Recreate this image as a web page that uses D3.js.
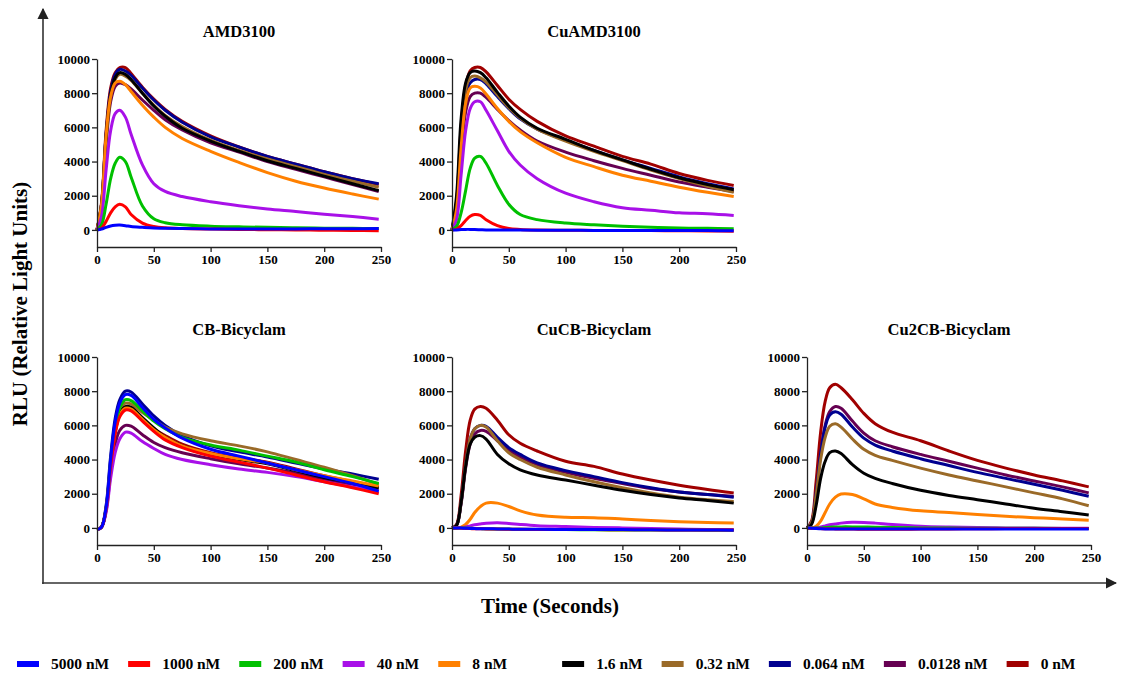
<!DOCTYPE html>
<html>
<head>
<meta charset="utf-8">
<script src="https://cdn.jsdelivr.net/npm/d3@7"></script>
<style>
  body { margin: 0; background: #fff; }
  svg { display: block; }
  svg text { font-family: 'Liberation Serif', 'Times New Roman', Times, 'DejaVu Serif', serif; font-weight: 700; fill: #000; }
</style>
</head>
<body>
<svg id="chart" width="1121" height="673"></svg>
<script>
// time points (seconds) at which the curves were read
const TIMES = [0, 4, 8, 12, 16, 20, 25, 30, 40, 50, 60, 75, 100, 125, 150, 175, 200, 225, 248];

const SERIES = ["5000 nM", "1000 nM", "200 nM", "40 nM", "8 nM", "1.6 nM", "0.32 nM", "0.064 nM", "0.0128 nM", "0 nM"];
const COLORS = ["#0000ff", "#ff0000", "#00c000", "#a810e8", "#ff8000", "#000000", "#9a6a28", "#000090", "#660052", "#a00000"];

const X_TICKS = [0, 50, 100, 150, 200, 250];
const Y_TICKS = [0, 2000, 4000, 6000, 8000, 10000];

// one row per series, same order as SERIES
const AMD3100 = [
  [0, 50, 150, 230, 270, 280, 250, 200, 150, 110, 100, 80, 60, 50, 60, 60, 70, 70, 80],
  [0, 100, 500, 1000, 1350, 1500, 1350, 900, 400, 200, 120, 80, 50, 30, 10, 0, -20, -30, -50],
  [0, 300, 1500, 3000, 3900, 4250, 4000, 3100, 1400, 650, 420, 300, 220, 180, 150, 120, 100, 90, 80],
  [0, 800, 3500, 5800, 6800, 7000, 6600, 5600, 3800, 2700, 2250, 1950, 1650, 1420, 1230, 1080, 920, 780, 630],
  [0, 1500, 5500, 7800, 8600, 8700, 8500, 8100, 7300, 6600, 6000, 5350, 4600, 3950, 3350, 2850, 2450, 2100, 1800],
  [0, 1500, 5500, 7900, 8900, 9200, 9100, 8800, 8000, 7250, 6650, 5950, 5200, 4600, 4050, 3600, 3150, 2700, 2300],
  [0, 1400, 5300, 7800, 8800, 9100, 9000, 8750, 8000, 7300, 6700, 6050, 5250, 4650, 4150, 3700, 3250, 2850, 2500],
  [0, 1500, 5600, 8100, 9100, 9400, 9300, 9050, 8300, 7600, 7000, 6300, 5450, 4850, 4300, 3850, 3400, 3000, 2700],
  [0, 1300, 5000, 7500, 8400, 8600, 8500, 8250, 7600, 7000, 6450, 5850, 5100, 4550, 4000, 3550, 3100, 2650, 2250],
  [0, 1600, 5800, 8300, 9200, 9500, 9500, 9150, 8350, 7650, 7050, 6350, 5500, 4850, 4300, 3850, 3400, 3000, 2650]
];

const CU_AMD3100 = [
  [0, 0, 20, 30, 30, 20, 10, 0, 0, -10, -10, -20, -20, -30, -30, -30, -40, -40, -50],
  [0, 50, 250, 550, 800, 900, 850, 600, 250, 80, 30, 0, -20, -30, -30, -40, -50, -60, -80],
  [0, 200, 1000, 2300, 3600, 4200, 4300, 3900, 2600, 1500, 900, 600, 400, 300, 220, 160, 110, 90, 70],
  [0, 600, 3200, 5800, 7100, 7500, 7500, 7000, 5800, 4600, 3800, 3000, 2150, 1650, 1300, 1150, 1000, 950, 850],
  [0, 1200, 4800, 7400, 8300, 8400, 8300, 7950, 7100, 6350, 5750, 5100, 4250, 3700, 3200, 2850, 2500, 2200, 1950],
  [0, 2000, 6500, 8600, 9200, 9300, 9200, 8900, 8050, 7250, 6600, 5950, 5300, 4650, 4100, 3550, 3050, 2650, 2350],
  [0, 1600, 5800, 8200, 8900, 9000, 8900, 8650, 7900, 7150, 6550, 5900, 5200, 4600, 4050, 3500, 3000, 2550, 2200],
  [0, 1400, 5400, 7900, 8600, 8800, 8800, 8550, 7800, 7100, 6500, 5900, 5250, 4650, 4100, 3600, 3100, 2700, 2400],
  [0, 1000, 4400, 6900, 7800, 8000, 8000, 7750, 7050, 6400, 5850, 5200, 4550, 4050, 3600, 3200, 2800, 2500, 2250],
  [0, 1700, 6000, 8400, 9300, 9500, 9500, 9250, 8450, 7650, 7050, 6350, 5500, 4900, 4300, 3850, 3300, 2900, 2600]
];

const CB_BICYCLAM = [
  [-100, 50, 1200, 4000, 6200, 7300, 7800, 7750, 7050, 6350, 5850, 5250, 4600, 4200, 3800, 3400, 3000, 2600, 2150],
  [-100, 50, 1100, 3600, 5500, 6500, 6900, 6850, 6250, 5650, 5150, 4700, 4200, 3850, 3500, 3100, 2700, 2350, 2000],
  [-100, 50, 1150, 3800, 5900, 7000, 7500, 7450, 6850, 6250, 5800, 5300, 4850, 4550, 4200, 3850, 3400, 3000, 2600],
  [-100, 40, 900, 2900, 4400, 5200, 5600, 5550, 5050, 4650, 4300, 4000, 3700, 3450, 3250, 3000, 2700, 2400, 2100],
  [-100, 50, 1100, 3600, 5600, 6600, 7000, 6950, 6350, 5750, 5300, 4800, 4350, 4050, 3800, 3400, 3050, 2750, 2450],
  [-100, 50, 1100, 3700, 5700, 6700, 7100, 7050, 6450, 5850, 5300, 4800, 4300, 4000, 3750, 3350, 2950, 2650, 2350],
  [-100, 50, 1150, 3800, 5900, 6900, 7300, 7250, 6750, 6300, 5900, 5500, 5100, 4800, 4450, 4000, 3550, 3050, 2550],
  [-100, 60, 1300, 4200, 6400, 7500, 8000, 7950, 7250, 6550, 6000, 5400, 4800, 4450, 4150, 3800, 3450, 3150, 2850],
  [-100, 40, 1000, 3200, 4900, 5700, 6000, 5950, 5450, 5000, 4700, 4400, 4050, 3750, 3500, 3200, 2850, 2550, 2300],
  [-100, 50, 1100, 3600, 5600, 6600, 7000, 6950, 6350, 5800, 5400, 4900, 4400, 4100, 3850, 3450, 3050, 2700, 2400]
];

const CU_CB_BICYCLAM = [
  [0, 0, -10, -20, -30, -40, -50, -50, -60, -70, -80, -80, -90, -100, -100, -110, -120, -120, -130],
  [0, 0, -20, -30, -40, -50, -50, -60, -70, -80, -80, -90, -100, -100, -110, -110, -120, -120, -120],
  [0, 0, 0, -10, -20, -30, -40, -50, -60, -70, -80, -90, -100, -110, -120, -120, -120, -130, -130],
  [0, 0, 20, 60, 120, 180, 230, 270, 300, 260, 200, 130, 80, 30, 0, -40, -70, -90, -100],
  [0, 0, 50, 200, 500, 900, 1250, 1450, 1450, 1250, 1000, 750, 620, 600, 520, 430, 360, 310, 280],
  [0, 150, 1500, 3600, 4900, 5300, 5400, 5200, 4300, 3750, 3400, 3100, 2800, 2500, 2200, 1950, 1750, 1600, 1450],
  [0, 150, 1500, 3700, 5200, 5800, 6000, 5900, 5100, 4400, 4000, 3550, 3100, 2700, 2350, 2050, 1800, 1650, 1550],
  [0, 150, 1500, 3700, 5200, 5800, 6000, 5950, 5300, 4700, 4300, 3800, 3350, 3000, 2650, 2350, 2100, 1950, 1800],
  [0, 150, 1400, 3500, 4900, 5500, 5700, 5650, 5100, 4550, 4150, 3700, 3250, 2900, 2600, 2300, 2100, 1950, 1850],
  [0, 200, 1900, 4500, 6300, 6950, 7100, 7000, 6300, 5450, 4950, 4500, 3900, 3600, 3150, 2800, 2500, 2250, 2050]
];

const CU2_CB_BICYCLAM = [
  [0, -20, -40, -50, -60, -60, -60, -60, -60, -60, -60, -60, -60, -60, -60, -60, -60, -60, -60],
  [0, -20, -30, -40, -50, -50, -60, -70, -70, -80, -80, -80, -70, -60, -50, -40, -30, -30, -30],
  [0, 0, 0, 0, 20, 40, 50, 60, 60, 50, 40, 20, 0, -10, -20, -20, -20, -30, -30],
  [0, 0, 20, 60, 120, 180, 230, 280, 330, 320, 280, 200, 100, 50, 20, 0, -10, -20, -20],
  [0, 0, 100, 400, 900, 1400, 1800, 1980, 1950, 1700, 1400, 1200, 1000, 900, 780, 680, 600, 520, 450],
  [0, 200, 1300, 2900, 3900, 4400, 4500, 4350, 3700, 3200, 2900, 2600, 2200, 1900, 1650, 1400, 1150, 950, 750],
  [0, 300, 1900, 4000, 5300, 5950, 6100, 5900, 5200, 4600, 4250, 3950, 3500, 3100, 2750, 2400, 2050, 1700, 1300],
  [0, 300, 2000, 4300, 5900, 6600, 6800, 6650, 5900, 5250, 4850, 4500, 4050, 3650, 3250, 2900, 2550, 2200, 1850],
  [0, 300, 2000, 4400, 6000, 6800, 7100, 7000, 6250, 5550, 5100, 4750, 4300, 3900, 3500, 3100, 2750, 2400, 2050],
  [0, 400, 2700, 5600, 7400, 8200, 8400, 8200, 7500, 6700, 6100, 5600, 5100, 4500, 3950, 3500, 3100, 2750, 2400]
];

const PANELS = [
  { title: "AMD3100", data: AMD3100, col: 0, row: 0 },
  { title: "CuAMD3100", data: CU_AMD3100, col: 1, row: 0 },
  { title: "CB-Bicyclam", data: CB_BICYCLAM, col: 0, row: 1 },
  { title: "CuCB-Bicyclam", data: CU_CB_BICYCLAM, col: 1, row: 1 },
  { title: "Cu2CB-Bicyclam", data: CU2_CB_BICYCLAM, col: 2, row: 1 }
];

const svg = d3.select("#chart");

const colLeft = [97, 452, 807];
const rowTop = [59, 357];
const plotW = 284, plotH = 188;

PANELS.forEach(p => {
  const g = svg.append("g")
    .attr("transform", "translate(" + colLeft[p.col] + "," + rowTop[p.row] + ")");

  const x = d3.scaleLinear().domain([0, 250]).range([0, plotW]);
  const y = d3.scaleLinear().domain([-1000, 10000]).range([plotH, 0]);

  const line = d3.line()
    .x((d, i) => x(TIMES[i]))
    .y(d => y(d))
    .curve(d3.curveCatmullRom.alpha(0.5));

  // draw from 0 nM up to 5000 nM so the high concentrations sit on top
  for (let s = SERIES.length - 1; s >= 0; s--) {
    g.append("path")
      .datum(p.data[s])
      .attr("d", line)
      .attr("fill", "none")
      .attr("stroke", COLORS[s])
      .attr("stroke-width", 3)
      .attr("stroke-linejoin", "round");
  }

  const xAxis = g.append("g")
    .attr("transform", "translate(0," + plotH + ")")
    .call(d3.axisBottom(x).tickValues(X_TICKS).tickSize(5).tickSizeOuter(0).tickPadding(3));

  const yAxis = g.append("g")
    .call(d3.axisLeft(y).tickValues(Y_TICKS).tickFormat(d3.format("d")).tickSize(5).tickSizeOuter(0).tickPadding(2));

  [xAxis, yAxis].forEach(a => {
    a.attr("font-family", null).attr("font-size", null);
    a.selectAll("path, line").attr("stroke", "#222").attr("stroke-width", 1.3);
    a.selectAll("text").attr("fill", "#000").style("font-size", "13px");
  });

  g.append("text")
    .attr("x", plotW / 2)
    .attr("y", -22)
    .attr("text-anchor", "middle")
    .style("font-size", "16.5px")
    .text(p.title);
});

// big outer axes with arrows
svg.append("defs").append("marker")
  .attr("id", "arrow")
  .attr("viewBox", "0 0 10 10")
  .attr("refX", 9).attr("refY", 5)
  .attr("markerWidth", 7).attr("markerHeight", 7)
  .attr("markerUnits", "strokeWidth")
  .attr("orient", "auto")
  .append("path")
  .attr("d", "M0,0L10,5L0,10Z")
  .attr("fill", "#222");

svg.append("path")
  .attr("d", "M43,584L43,9")
  .attr("stroke", "#333").attr("stroke-width", 1.6).attr("fill", "none")
  .attr("marker-end", "url(#arrow)");

svg.append("path")
  .attr("d", "M42,583L1116,583")
  .attr("stroke", "#333").attr("stroke-width", 1.6).attr("fill", "none")
  .attr("marker-end", "url(#arrow)");

svg.append("text")
  .attr("transform", "translate(27,304) rotate(-90)")
  .attr("text-anchor", "middle")
  .style("font-size", "21px")
  .text("RLU (Relative Light Units)");

svg.append("text")
  .attr("x", 550).attr("y", 613)
  .attr("text-anchor", "middle")
  .style("font-size", "21px")
  .text("Time (Seconds)");

// legend: two groups of five, wider gap between them
const legend = svg.append("g").attr("transform", "translate(0,664)");
let lx = 17;
SERIES.forEach((name, i) => {
  legend.append("rect")
    .attr("x", lx).attr("y", -3)
    .attr("width", 22).attr("height", 6)
    .attr("fill", COLORS[i]);
  const t = legend.append("text")
    .attr("x", lx + 34).attr("y", 5)
    .style("font-size", "15.5px")
    .text(name);
  lx += 34 + t.node().getComputedTextLength() + 19 + (i === 4 ? 36 : 0);
});
</script>
</body>
</html>
